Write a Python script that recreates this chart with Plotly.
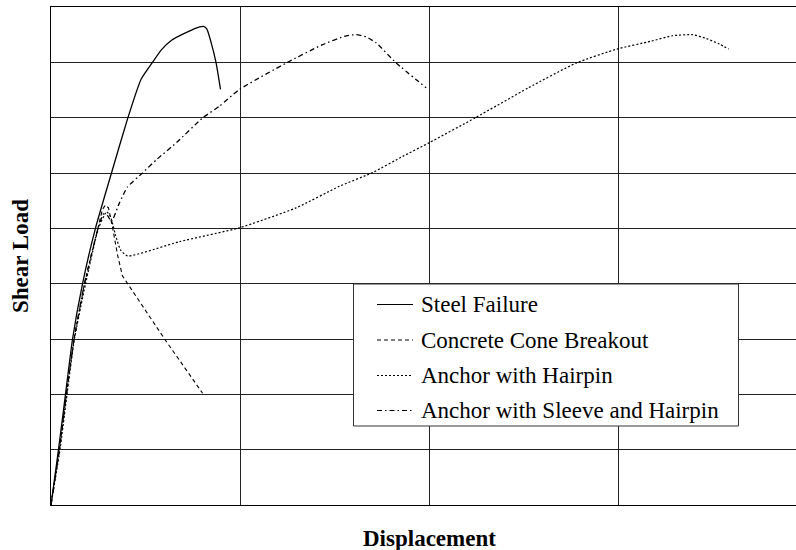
import plotly.graph_objects as go

# Load-displacement curves for four anchor failure modes (arbitrary units)
steel_x = [0.0, 0.040, 0.077, 0.114, 0.167, 0.235, 0.320, 0.407, 0.476, 0.537,
           0.585, 0.638, 0.717, 0.786, 0.807, 0.825, 0.847, 0.873, 0.897]
steel_y = [0.0, 1.01, 2.01, 3.00, 4.00, 5.00, 6.00, 7.00, 7.69, 8.00,
           8.23, 8.40, 8.54, 8.64, 8.65, 8.60, 8.36, 8.00, 7.51]

cone_x = [0.0, 0.045, 0.082, 0.122, 0.177, 0.246, 0.272, 0.288, 0.304, 0.325,
          0.352, 0.378, 0.601, 0.802]
cone_y = [0.0, 1.01, 2.01, 3.00, 4.00, 5.00, 5.34, 5.42, 5.37, 5.03,
          4.52, 4.14, 3.00, 2.02]

hairpin_x = [0.0, 0.048, 0.085, 0.124, 0.183, 0.251, 0.294, 0.315, 0.341, 0.368,
             0.405, 0.680, 0.997, 1.297, 1.526, 1.703, 1.861, 1.997, 2.246, 2.526,
             2.780, 2.995, 3.172, 3.288, 3.394, 3.468, 3.537, 3.586]
hairpin_y = [0.0, 1.01, 2.01, 3.00, 4.00, 5.00, 5.30, 5.21, 4.88, 4.61,
             4.50, 4.76, 5.01, 5.37, 5.76, 6.01, 6.30, 6.54, 7.00, 7.54,
             7.99, 8.24, 8.38, 8.48, 8.50, 8.43, 8.33, 8.24]

sleeve_x = [0.0, 0.045, 0.082, 0.122, 0.177, 0.249, 0.278, 0.299, 0.320, 0.362,
            0.405, 0.484, 0.558, 0.664, 0.804, 0.892, 0.997, 1.246, 1.437, 1.562,
            1.615, 1.668, 1.721, 1.826, 1.985]
sleeve_y = [0.0, 1.01, 2.01, 3.00, 4.00, 5.00, 5.26, 5.23, 5.12, 5.46,
            5.75, 6.00, 6.24, 6.55, 7.00, 7.21, 7.51, 7.99, 8.32, 8.48,
            8.50, 8.46, 8.35, 7.99, 7.54]

series_names = ["Steel Failure", "Concrete Cone Breakout",
                "Anchor with Hairpin", "Anchor with Sleeve and Hairpin"]

serif = "Liberation Serif, Times New Roman, serif"

L, T, B = 51, 7, 45
W, H = 796, 550
plot_w = W - L
plot_h = H - T - B
x_unit = 189.0


def px_x(px):
    """Pixel column -> paper x."""
    return (px - L) / plot_w


def px_y(py):
    """Pixel row -> paper y."""
    return (H - B - py) / plot_h


fig = go.Figure()
# (x, y, dash pattern, width, line shape)
styles = [
    (steel_x, steel_y, "solid", 1.3, "spline"),
    (cone_x, cone_y, "4px,3px", 1.1, "linear"),
    (hairpin_x, hairpin_y, "2px,2px", 1.2, "spline"),
    (sleeve_x, sleeve_y, "5px,3px,1.5px,3px", 1.3, "spline"),
]
for name, (xs, ys, dash, w, shape) in zip(series_names, styles):
    fig.add_trace(go.Scatter(
        x=xs, y=ys, mode="lines", name=name,
        line=dict(color="black", width=w, dash=dash, shape=shape, smoothing=0.5),
    ))

# Boxed key in the lower-right part of the plot
shapes = [dict(type="rect", xref="paper", yref="paper",
               x0=px_x(353.5), x1=px_x(738.5), y0=px_y(426), y1=px_y(284),
               line=dict(color="#333", width=1), fillcolor="white", layer="above")]
annotations = []
row_y = [304.5, 340, 375.5, 410.5]
for name, (_, _, dash, w, _), ry in zip(series_names, styles, row_y):
    shapes.append(dict(type="line", xref="paper", yref="paper",
                       x0=px_x(377), x1=px_x(413), y0=px_y(ry), y1=px_y(ry),
                       line=dict(color="black", width=1, dash=dash), layer="above"))
    annotations.append(dict(text=name, xref="paper", yref="paper",
                            x=px_x(419), y=px_y(ry), xanchor="left", yanchor="middle",
                            showarrow=False,
                            font=dict(family=serif, size=23, color="black")))

annotations += [
    dict(text="<b>Displacement</b>", xref="paper", yref="paper",
         x=px_x(429), y=px_y(538), xanchor="center", yanchor="middle",
         showarrow=False, font=dict(family=serif, size=23, color="black")),
    dict(text="<b>Shear Load</b>", xref="paper", yref="paper",
         x=px_x(20), y=0.5, xanchor="center", yanchor="middle",
         textangle=-90, showarrow=False,
         font=dict(family=serif, size=23, color="black")),
]

fig.update_layout(
    width=W, height=H,
    margin=dict(l=L, r=0, t=T, b=B, pad=0),
    paper_bgcolor="white", plot_bgcolor="white",
    font=dict(family=serif, color="black"),
    showlegend=False,
    shapes=shapes,
    annotations=annotations,
    xaxis=dict(
        range=[0, plot_w / x_unit], dtick=1, tick0=0,
        showticklabels=False, ticks="",
        showgrid=True, gridcolor="#222", gridwidth=1,
        showline=True, linecolor="black", linewidth=1, mirror=True,
        zeroline=False,
    ),
    yaxis=dict(
        range=[0, 9], dtick=1, tick0=0,
        showticklabels=False, ticks="",
        showgrid=True, gridcolor="#222", gridwidth=1,
        showline=True, linecolor="black", linewidth=1, mirror=False,
        zeroline=False,
    ),
)

fig.write_html("out.html")
